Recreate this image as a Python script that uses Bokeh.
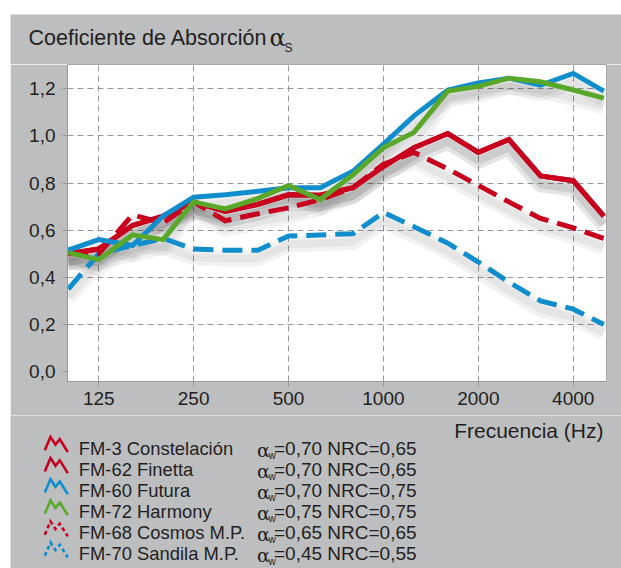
from bokeh.plotting import figure
from bokeh.models import FixedTicker, CustomJSTickFormatter, Range1d, Spacer
from bokeh.layouts import column, row
from bokeh.core.properties import value
from bokeh.embed import file_html
from bokeh.resources import INLINE

# ---------------- data ----------------
freqs = [100, 125, 160, 200, 250, 315, 400, 500, 630, 800, 1000, 1250, 1600, 2000, 2500, 3150, 4000, 5000]

constelacion = [0.50, 0.52, 0.62, 0.66, 0.72, 0.68, 0.71, 0.75, 0.748, 0.78, 0.87, 0.95, 1.01, 0.93, 0.985, 0.83, 0.81, 0.66]
finetta      = [0.50, 0.52, 0.62, 0.66, 0.72, 0.68, 0.71, 0.75, 0.748, 0.78, 0.87, 0.95, 1.01, 0.93, 0.985, 0.83, 0.81, 0.66]
futura       = [0.515, 0.56, 0.535, 0.66, 0.74, 0.75, 0.765, 0.78, 0.78, 0.85, 0.965, 1.085, 1.195, 1.225, 1.245, 1.215, 1.265, 1.19]
harmony      = [0.505, 0.475, 0.58, 0.56, 0.72, 0.69, 0.735, 0.79, 0.73, 0.835, 0.95, 1.015, 1.19, 1.21, 1.245, 1.23, 1.195, 1.16]
cosmos       = [0.50, 0.50, 0.665, 0.63, 0.72, 0.64, 0.67, 0.695, 0.73, 0.78, 0.88, 0.93, 0.86, 0.79, 0.72, 0.65, 0.61, 0.565]
sandila      = [0.35, 0.50, 0.535, 0.565, 0.52, 0.515, 0.515, 0.575, 0.58, 0.585, 0.675, 0.615, 0.545, 0.465, 0.38, 0.30, 0.265, 0.20]

names   = ["FM-3 Constelación", "FM-62 Finetta", "FM-60 Futura", "FM-72 Harmony", "FM-68 Cosmos M.P.", "FM-70 Sandila M.P."]
alpha_w = ["0,70", "0,70", "0,70", "0,75", "0,65", "0,45"]
nrc     = ["0,65", "0,65", "0,75", "0,75", "0,65", "0,55"]

x_ticks = [125, 250, 500, 1000, 2000, 4000]
y_ticks = [0.0, 0.2, 0.4, 0.6, 0.8, 1.0, 1.2]

title_text = "Coeficiente de Absorción"
x_title = "Frecuencia (Hz)"

# ---------------- style ----------------
BG = "#bdbec0"
TXT = "#231f20"
RED = "#c8001e"
RED2 = "#c00020"
BLUE = "#0f8dcd"
GREEN = "#5aa82a"
GRID = "#999999"
FONT = "Liberation Sans"
W = 611

series = [
    (constelacion, RED, None),
    (finetta, RED2, None),
    (futura, BLUE, None),
    (harmony, GREEN, None),
    (cosmos, RED, "20 9"),
    (sandila, BLUE, "20 9"),
]


def panel(h):
    f = figure(width=W, height=h, x_range=Range1d(0, W), y_range=Range1d(h, 0),
               output_backend="svg", toolbar_location=None, frame_align=False,
               min_border=0, min_border_left=0, min_border_right=0,
               min_border_top=0, min_border_bottom=0)
    f.axis.visible = False
    f.grid.visible = False
    f.title.visible = False
    f.outline_line_color = None
    f.background_fill_color = BG
    f.border_fill_color = BG
    return f


def txt(f, x, y, text, size, font=FONT, align="left"):
    f.text(x=[x], y=[y], text=[text], text_font=value(font), text_font_size=value(size),
           text_color=TXT, text_align=align, text_baseline="middle")


# ---------------- header (page y 14..64) ----------------
head = panel(50)
txt(head, 18, 23.2, title_text, "21.5px")
txt(head, 259, 23, "α", "24px", font="DejaVu Serif")
txt(head, 274, 33, "S", "12px")

# ---------------- main chart (page y 64..415) ----------------
p = figure(width=W, height=351, x_axis_type="log",
           x_range=Range1d(99.5, 5100), y_range=Range1d(-0.042, 1.303),
           output_backend="svg", toolbar_location=None, frame_align=False,
           min_border_left=57, min_border_right=15, min_border_top=0, min_border_bottom=34)
p.title.visible = False
p.border_fill_color = BG
p.background_fill_color = "white"
p.outline_line_color = "#a8a8a8"

p.xaxis.ticker = FixedTicker(ticks=x_ticks)
p.xaxis.formatter = CustomJSTickFormatter(code="return tick.toFixed(0);")
p.yaxis.ticker = FixedTicker(ticks=y_ticks)
p.yaxis.formatter = CustomJSTickFormatter(code="return tick.toFixed(1).replace('.', ',');")
for ax in (p.xaxis, p.yaxis):
    ax.axis_line_color = GRID
    ax.major_tick_line_color = GRID
    ax.major_tick_out = 5
    ax.major_tick_in = 0
    ax.minor_tick_line_color = None
    ax.major_label_text_font = FONT
    ax.major_label_text_font_size = "19px"
    ax.major_label_text_color = TXT
p.yaxis.major_label_standoff = 7
p.xaxis.major_label_standoff = 5

p.xgrid.ticker = FixedTicker(ticks=x_ticks)
p.ygrid.ticker = FixedTicker(ticks=y_ticks[1:])
for g in (p.xgrid, p.ygrid):
    g.grid_line_color = GRID
    g.grid_line_dash = "6 4"
    g.grid_line_width = 1

# soft drop shadows under the curves
for vals, col, dash in series:
    p.line(freqs, [v - 0.035 for v in vals], line_color="black", line_alpha=0.05,
           line_width=16, line_join="round")
    p.line(freqs, [v - 0.035 for v in vals], line_color="black", line_alpha=0.05,
           line_width=8, line_join="round")

for i in [5, 4, 1, 0, 2, 3]:
    vals, col, dash = series[i]
    kw = dict(line_color=col, line_width=5, line_join="miter")
    if dash:
        kw["line_dash"] = dash
    p.line(freqs, vals, **kw)

# ---------------- footer (page y 415..568) ----------------
foot = panel(153)
txt(foot, 593, 15, x_title, "21px", align="right")

icon_dx = [34.3, 40, 45, 49.3, 57.3]
icon_dy = [2.3, -11, -3.4, -8.7, 4]
icon_styles = [(RED, None), (RED2, None), (BLUE, None), (GREEN, None), (RED, "4 3"), (BLUE, "4 3")]
for i, name in enumerate(names):
    mid = 32.5 + 21.1 * i
    col, dash = icon_styles[i]
    kw = dict(line_color=col, line_width=2.6, line_join="miter")
    if dash:
        kw["line_dash"] = dash
    foot.line(icon_dx, [mid + d for d in icon_dy], **kw)
    txt(foot, 68.3, mid, name, "18.4px")
    txt(foot, 246.5, mid + 1.5, "α", "19px", font="DejaVu Serif")
    txt(foot, 258, mid + 7.5, "w", "10px")
    txt(foot, 263.5, mid, "=" + alpha_w[i] + " NRC=" + nrc[i], "19px")

layout = column(Spacer(width=621, height=14),
                row(Spacer(width=10, height=554), column(head, p, foot)))
open("out.html", "w").write(file_html(layout, INLINE))
